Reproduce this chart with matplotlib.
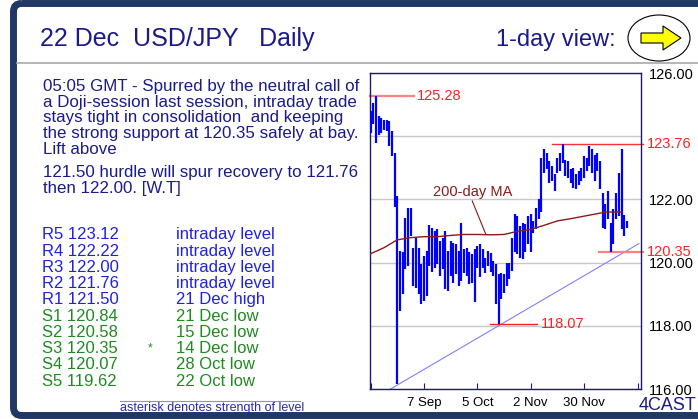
import matplotlib
matplotlib.use('Agg')
import matplotlib.pyplot as plt
from matplotlib.patches import Ellipse, Polygon, FancyBboxPatch

plt.rcParams['font.family'] = ['Liberation Sans', 'DejaVu Sans']

# daily high/low, trading-day index 0 = 10 Aug ... 96 = 22 Dec
highs = [124.79, 125.05, 125.28, 124.63, 124.58, 124.50, 124.50, 124.47, 124.16, 123.47,
         122.10, 120.37, 120.32, 121.42, 121.74, 121.74, 120.47, 120.79, 120.47, 119.95,
         120.20, 120.37, 121.20, 121.10, 121.00, 121.05, 120.68, 120.79, 121.00, 120.37,
         120.68, 120.63, 120.58, 120.37, 121.26, 120.42, 120.47, 120.32, 120.26, 120.42,
         120.53, 120.58, 120.42, 120.16, 120.37, 120.30, 120.05, 119.95, 119.63, 119.68,
         119.63, 120.00, 120.00, 120.79, 121.53, 121.47, 121.16, 121.26, 121.21, 121.47,
         121.53, 121.32, 121.74, 122.00, 123.30, 123.58, 123.47, 123.21, 123.05, 122.79,
         123.32, 123.47, 123.76, 123.26, 123.21, 122.95, 123.00, 122.79, 122.90, 123.00,
         123.37, 123.32, 123.68, 123.58, 123.42, 123.47, 123.21, 122.21, 121.84, 122.26,
         121.26, 121.70, 122.21, 122.84, 123.58, 121.50, 121.32]
lows = [124.11, 124.40, 123.79, 124.05, 124.10, 124.20, 124.15, 123.68, 123.37, 121.75,
        116.15, 118.47, 119.00, 119.79, 119.90, 120.84, 119.26, 119.20, 119.00, 118.68,
        118.80, 118.95, 119.90, 119.70, 119.84, 119.95, 119.58, 119.79, 119.16, 119.10,
        119.58, 119.37, 119.63, 119.26, 119.42, 119.68, 119.58, 119.32, 119.37, 118.74,
        119.84, 119.53, 119.84, 119.68, 119.89, 119.70, 119.58, 118.68, 118.07, 118.84,
        119.05, 119.26, 119.47, 119.74, 120.32, 120.26, 120.16, 120.10, 120.32, 120.58,
        120.32, 120.95, 121.05, 121.37, 121.60, 122.84, 122.95, 122.53, 122.58, 122.26,
        122.84, 122.89, 123.16, 122.74, 122.68, 122.53, 122.37, 122.32, 122.45, 122.58,
        122.68, 122.89, 123.05, 122.84, 122.58, 122.89, 122.32, 121.10, 121.05, 121.37,
        120.35, 120.58, 121.37, 121.47, 121.05, 120.84, 121.10]
days = list(range(len(highs)))

# 200-day moving average, read at a few points
ma_x = [0, 5, 10, 15, 20, 25, 30, 35, 40, 45, 50, 55, 60, 65, 70, 75, 80, 85, 88, 94]
ma_y = [120.28, 120.47, 120.72, 120.79, 120.82, 120.82, 120.86, 120.89, 120.89, 120.88,
        120.89, 120.99, 121.05, 121.18, 121.32, 121.39, 121.47, 121.55, 121.60, 121.60]

trend_x = [7.5, 100.5]
trend_y = [116.0, 120.6]

tick_pos = [0, 20, 40, 60, 80, 100]
tick_labels = ['', '7 Sep', '5 Oct', '2 Nov', '30 Nov', '']
ytick_vals = [116, 118, 120, 122, 124, 126]
ytick_labels = ['116.00', '118.00', '120.00', '122.00', '', '126.00']

comment = ['05:05 GMT - Spurred by the neutral call of',
           'a Doji-session last session, intraday trade',
           'stays tight in consolidation  and keeping',
           'the strong support at 120.35 safely at bay.',
           'Lift above']
comment2 = ['121.50 hurdle will spur recovery to 121.76',
            'then 122.00. [W.T]']

levels = [('R5 123.12', '', 'intraday level'),
          ('R4 122.22', '', 'intraday level'),
          ('R3 122.00', '', 'intraday level'),
          ('R2 121.76', '', 'intraday level'),
          ('R1 121.50', '', '21 Dec high'),
          ('S1 120.84', '', '21 Dec low'),
          ('S2 120.58', '', '15 Dec low'),
          ('S3 120.35', '*', '14 Dec low'),
          ('S4 120.07', '', '28 Oct low'),
          ('S5 119.62', '', '22 Oct low')]

navy = '#1a1a8c'
frame = '#1f3864'
red = '#ff2020'

fig = plt.figure(figsize=(6.98, 4.19), dpi=100)

# background layer in pixel coordinates
bg = fig.add_axes([0, 0, 1, 1], zorder=0)
bg.set_xlim(0, 698)
bg.set_ylim(419, 0)
bg.axis('off')

bg.add_patch(FancyBboxPatch((13.5, 3.5), 700, 412, boxstyle='round,pad=0,rounding_size=8',
                            fill=False, ec=frame, lw=5.0))
bg.plot([17, 698], [63.5, 63.5], color='#a8a8a8', lw=1.2)

bg.text(40, 46, '22 Dec  USD/JPY   Daily', fontsize=18, color=navy, va='baseline')
bg.text(496, 46, '1-day view:', fontsize=17, color=navy, va='baseline')
bg.add_patch(Ellipse((659, 38), 62, 46, fill=False, ec='black', lw=0.8))
bg.add_patch(Polygon([(641, 33), (663, 33), (663, 26), (681, 38), (663, 50), (663, 43), (641, 43)],
                     closed=True, fc='#ffff00', ec='black', lw=0.8))

y0 = 90.7
for i, line in enumerate(comment):
    bg.text(43, y0 + i * 15.8, line, fontsize=12.2, color=navy, va='baseline')
for i, line in enumerate(comment2):
    bg.text(43, 176.7 + i * 16, line, fontsize=12.2, color=navy, va='baseline')

for i, (lev, star, desc) in enumerate(levels):
    col = '#2020e0' if lev.startswith('R') else '#208a20'
    yb = 239.3 + i * 16.27
    bg.text(42.5, yb, lev, fontsize=12, color=col, va='baseline')
    bg.text(175.5, yb, desc, fontsize=12, color=col, va='baseline')
    if star:
        bg.text(148, yb - 2, star, fontsize=8.5, color=col, va='baseline')

bg.plot([120, 300], [400.5, 400.5], color='#9090c8', lw=0.8)
bg.text(120, 411, 'asterisk denotes strength of level', fontsize=9, color='#2a2ab0', va='baseline')
bg.text(639, 410, '4CAST', fontsize=13, color=navy, va='baseline')

# chart
ax = fig.add_axes([370 / 698, 1 - 389 / 419, 271 / 698, 316 / 419], zorder=1)
ax.set_facecolor('white')
ax.set_xlim(-0.2, 101.3)
ax.set_ylim(116, 126)

ax.yaxis.grid(True, color='#c8c8c8', lw=1)
ax.set_axisbelow(True)

ax.vlines(days, lows, highs, color='#0000ff', lw=1.6, zorder=3)
ax.plot(ma_x, ma_y, color='#8b1a1a', lw=1.0, zorder=4)
ax.plot(trend_x, trend_y, color='#8080ff', lw=0.8, zorder=2)

ax.text(38.2, 122.25, '200-day MA', fontsize=10.5, color='#8b1a1a', ha='center', va='center')
ax.plot([38.1, 43.2], [121.95, 120.89], color='#8b1a1a', lw=0.8)

ax.plot([-0.2, 16.4], [125.28, 125.28], color='#ff8080', lw=1.6, clip_on=False)
ax.text(17.2, 125.28, '125.28', fontsize=10.5, color=red, va='center')
ax.plot([68, 102], [123.76, 123.76], color='#ff3030', lw=1.0, clip_on=False)
ax.text(103.5, 123.76, '123.76', fontsize=10.5, color=red, va='center', clip_on=False)
ax.plot([44.9, 62.4], [118.07, 118.07], color='#ff2020', lw=1.0)
ax.text(63.7, 118.07, '118.07', fontsize=10.5, color=red, va='center')
ax.plot([85.6, 102], [120.35, 120.35], color='#ff8080', lw=1.6, clip_on=False)
ax.text(103.5, 120.35, '120.35', fontsize=10.5, color=red, va='center', clip_on=False)

ax.set_xticks(tick_pos)
ax.set_xticklabels(tick_labels, fontsize=9.5)
ax.tick_params(axis='x', direction='in', length=4, color=navy, pad=6)

ax.yaxis.tick_right()
ax.set_yticks(ytick_vals)
ax.set_yticklabels(ytick_labels, fontsize=10.5)
ax.tick_params(axis='y', length=0, pad=6)

for sp in ax.spines.values():
    sp.set_color('#1a1a6e')
    sp.set_linewidth(1.0)

fig.savefig('out.png', dpi=100)
